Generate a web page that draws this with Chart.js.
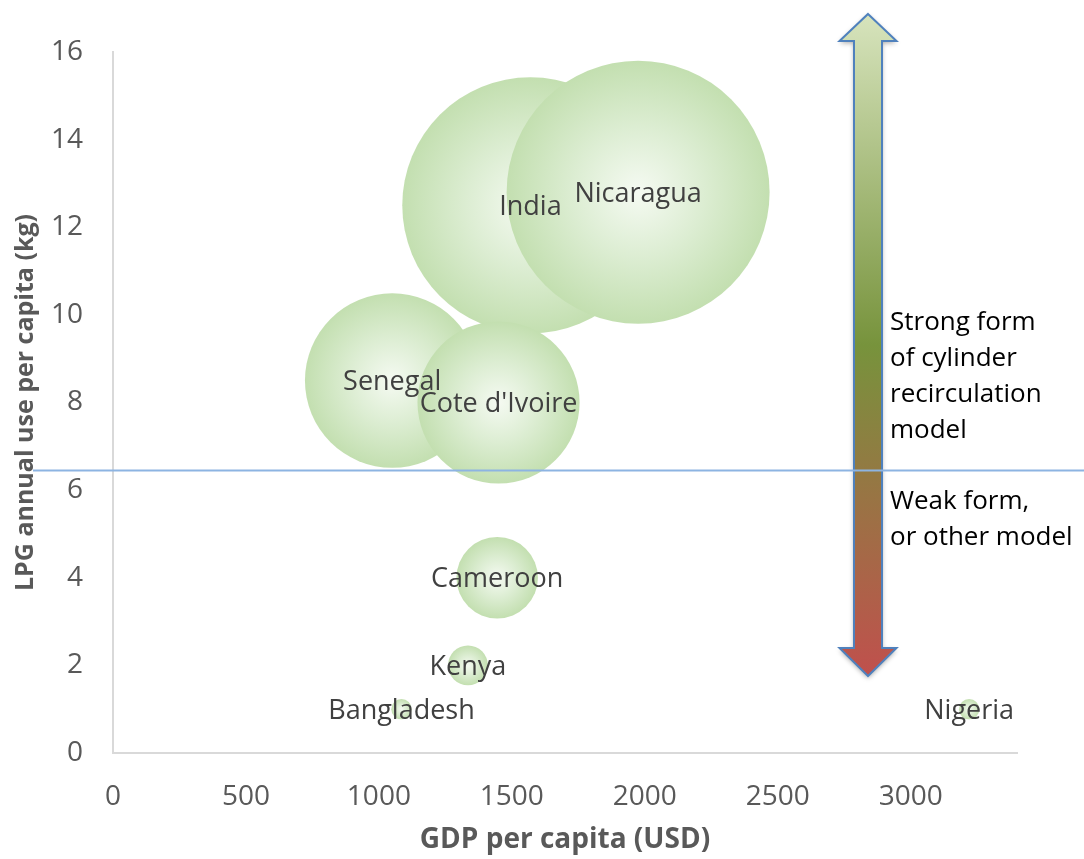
<!DOCTYPE html>
<html>
<head>
<meta charset="utf-8">
<script src="https://cdn.jsdelivr.net/npm/chart.js@4/dist/chart.umd.min.js"></script>
<style>
  html, body { margin: 0; padding: 0; background: #fff; }
  #wrap { width: 1084px; height: 859px; }
</style>
</head>
<body>
<div id="wrap"><canvas id="bubbleChart" width="1084" height="859"></canvas></div>
<script>
var countries = ['India', 'Nicaragua', 'Senegal', "Cote d'Ivoire", 'Cameroon', 'Kenya', 'Bangladesh', 'Nigeria'];
var gdpPerCapita = [1570, 1975, 1050, 1450, 1445, 1335, 1085, 3220];
var lpgPerCapita = [12.5, 12.8, 8.5, 8.0, 4.0, 2.0, 1.0, 1.0];
var bubbleSize = [95, 100, 44, 38, 9.6, 2.3, 0.6, 0.6];
var xTicks = [0, 500, 1000, 1500, 2000, 2500, 3000];
var yTicks = [0, 2, 4, 6, 8, 10, 12, 14, 16];
var threshold = 6.45;
var strongText = ['Strong form', 'of cylinder', 'recirculation', 'model'];
var weakText = ['Weak form,', 'or other model'];

(function () {
  'use strict';

  var FONT = '"Open Sans", "DejaVu Sans", sans-serif';
  var MAX_R = 131.5;
  var maxSize = Math.max.apply(null, bubbleSize);

  function radiusFor(i) {
    return MAX_R * Math.sqrt(bubbleSize[i] / maxSize);
  }

  var points = countries.map(function (c, i) {
    return { x: gdpPerCapita[i], y: lpgPerCapita[i], r: radiusFor(i) };
  });

  function bubbleFill(ctx) {
    var chart = ctx.chart;
    if (ctx.type !== 'data' || !chart.chartArea) return '#c5e0b4';
    var i = ctx.dataIndex;
    var cx = chart.scales.x.getPixelForValue(gdpPerCapita[i]);
    var cy = chart.scales.y.getPixelForValue(lpgPerCapita[i]);
    var r = radiusFor(i);
    var g = chart.ctx.createRadialGradient(cx, cy, 0, cx, cy, r);
    g.addColorStop(0, '#f5faf2');
    g.addColorStop(0.5, '#dcedd2');
    g.addColorStop(1, '#c3dfb0');
    return g;
  }

  // arrow + side notes, threshold line, bubble names
  var overlay = {
    id: 'overlay',
    afterDatasetsDraw: function (chart) {
      var ctx = chart.ctx;
      var yPix = chart.scales.y.getPixelForValue(threshold);

      // double arrow
      var cx = 868, sw = 14, hw = 28.5;
      var top = 14, topBase = 41, bot = 676, botBase = 648;
      ctx.save();
      var grad = ctx.createLinearGradient(0, top, 0, bot);
      grad.addColorStop(0, '#d7e4bd');
      grad.addColorStop(0.5, '#77933c');
      grad.addColorStop(1, '#c0504d');
      ctx.beginPath();
      ctx.moveTo(cx, top);
      ctx.lineTo(cx + hw, topBase);
      ctx.lineTo(cx + sw, topBase);
      ctx.lineTo(cx + sw, botBase);
      ctx.lineTo(cx + hw, botBase);
      ctx.lineTo(cx, bot);
      ctx.lineTo(cx - hw, botBase);
      ctx.lineTo(cx - sw, botBase);
      ctx.lineTo(cx - sw, topBase);
      ctx.lineTo(cx - hw, topBase);
      ctx.closePath();
      ctx.shadowColor = 'rgba(0,0,0,0.35)';
      ctx.shadowBlur = 5;
      ctx.shadowOffsetY = 2;
      ctx.fillStyle = grad;
      ctx.fill();
      ctx.shadowColor = 'transparent';
      ctx.lineWidth = 2;
      ctx.strokeStyle = '#4f81bd';
      ctx.stroke();
      ctx.restore();

      // threshold line
      ctx.save();
      ctx.beginPath();
      ctx.moveTo(33, yPix);
      ctx.lineTo(chart.width, yPix);
      ctx.lineWidth = 2;
      ctx.strokeStyle = '#8db4e2';
      ctx.stroke();
      ctx.restore();

      // side notes
      ctx.save();
      ctx.font = '26px ' + FONT;
      ctx.fillStyle = '#000';
      ctx.textAlign = 'left';
      ctx.textBaseline = 'middle';
      strongText.forEach(function (t, k) { ctx.fillText(t, 890, 323 + k * 36); });
      weakText.forEach(function (t, k) { ctx.fillText(t, 890, 502 + k * 36); });
      ctx.restore();

      // bubble names
      var meta = chart.getDatasetMeta(0);
      ctx.save();
      ctx.font = '27px ' + FONT;
      ctx.fillStyle = '#404040';
      ctx.textAlign = 'center';
      ctx.textBaseline = 'middle';
      meta.data.forEach(function (el, i) {
        ctx.fillText(countries[i], el.x, el.y + 2);
      });
      ctx.restore();
    }
  };

  new Chart(document.getElementById('bubbleChart'), {
    type: 'bubble',
    data: {
      datasets: [{
        data: points,
        backgroundColor: bubbleFill,
        borderWidth: 0,
        clip: false
      }]
    },
    options: {
      responsive: false,
      animation: false,
      events: [],
      layout: { autoPadding: false, padding: { top: 52, right: 67, left: 0, bottom: 0 } },
      plugins: { legend: { display: false }, tooltip: { enabled: false } },
      scales: {
        x: {
          type: 'linear',
          min: 0,
          max: 3400,
          afterBuildTicks: function (s) { s.ticks = xTicks.map(function (v) { return { value: v }; }); },
          afterFit: function (s) { s.height = 106; },
          grid: { display: false, drawTicks: false },
          border: { display: true, color: '#d9d9d9', width: 2 },
          ticks: {
            font: { family: FONT, size: 28 },
            color: '#595959',
            padding: 27,
            maxRotation: 0,
            callback: function (v) { return String(v); }
          },
          title: {
            display: true,
            text: 'GDP per capita (USD)',
            color: '#595959',
            font: { family: FONT, size: 28, weight: 'bold' },
            padding: { top: 0, bottom: 2 }
          }
        },
        y: {
          type: 'linear',
          min: 0,
          max: 16,
          afterBuildTicks: function (s) { s.ticks = yTicks.map(function (v) { return { value: v }; }); },
          afterFit: function (s) { s.width = 113; },
          grid: { display: false, drawTicks: false },
          border: { display: true, color: '#d9d9d9', width: 2 },
          ticks: { font: { family: FONT, size: 28 }, color: '#595959', padding: 30 },
          title: {
            display: true,
            text: 'LPG annual use per capita (kg)',
            color: '#595959',
            font: { family: FONT, size: 25, weight: 'bold' },
            padding: { top: 11, bottom: 0 }
          }
        }
      }
    },
    plugins: [overlay]
  });
})();
</script>
</body>
</html>
